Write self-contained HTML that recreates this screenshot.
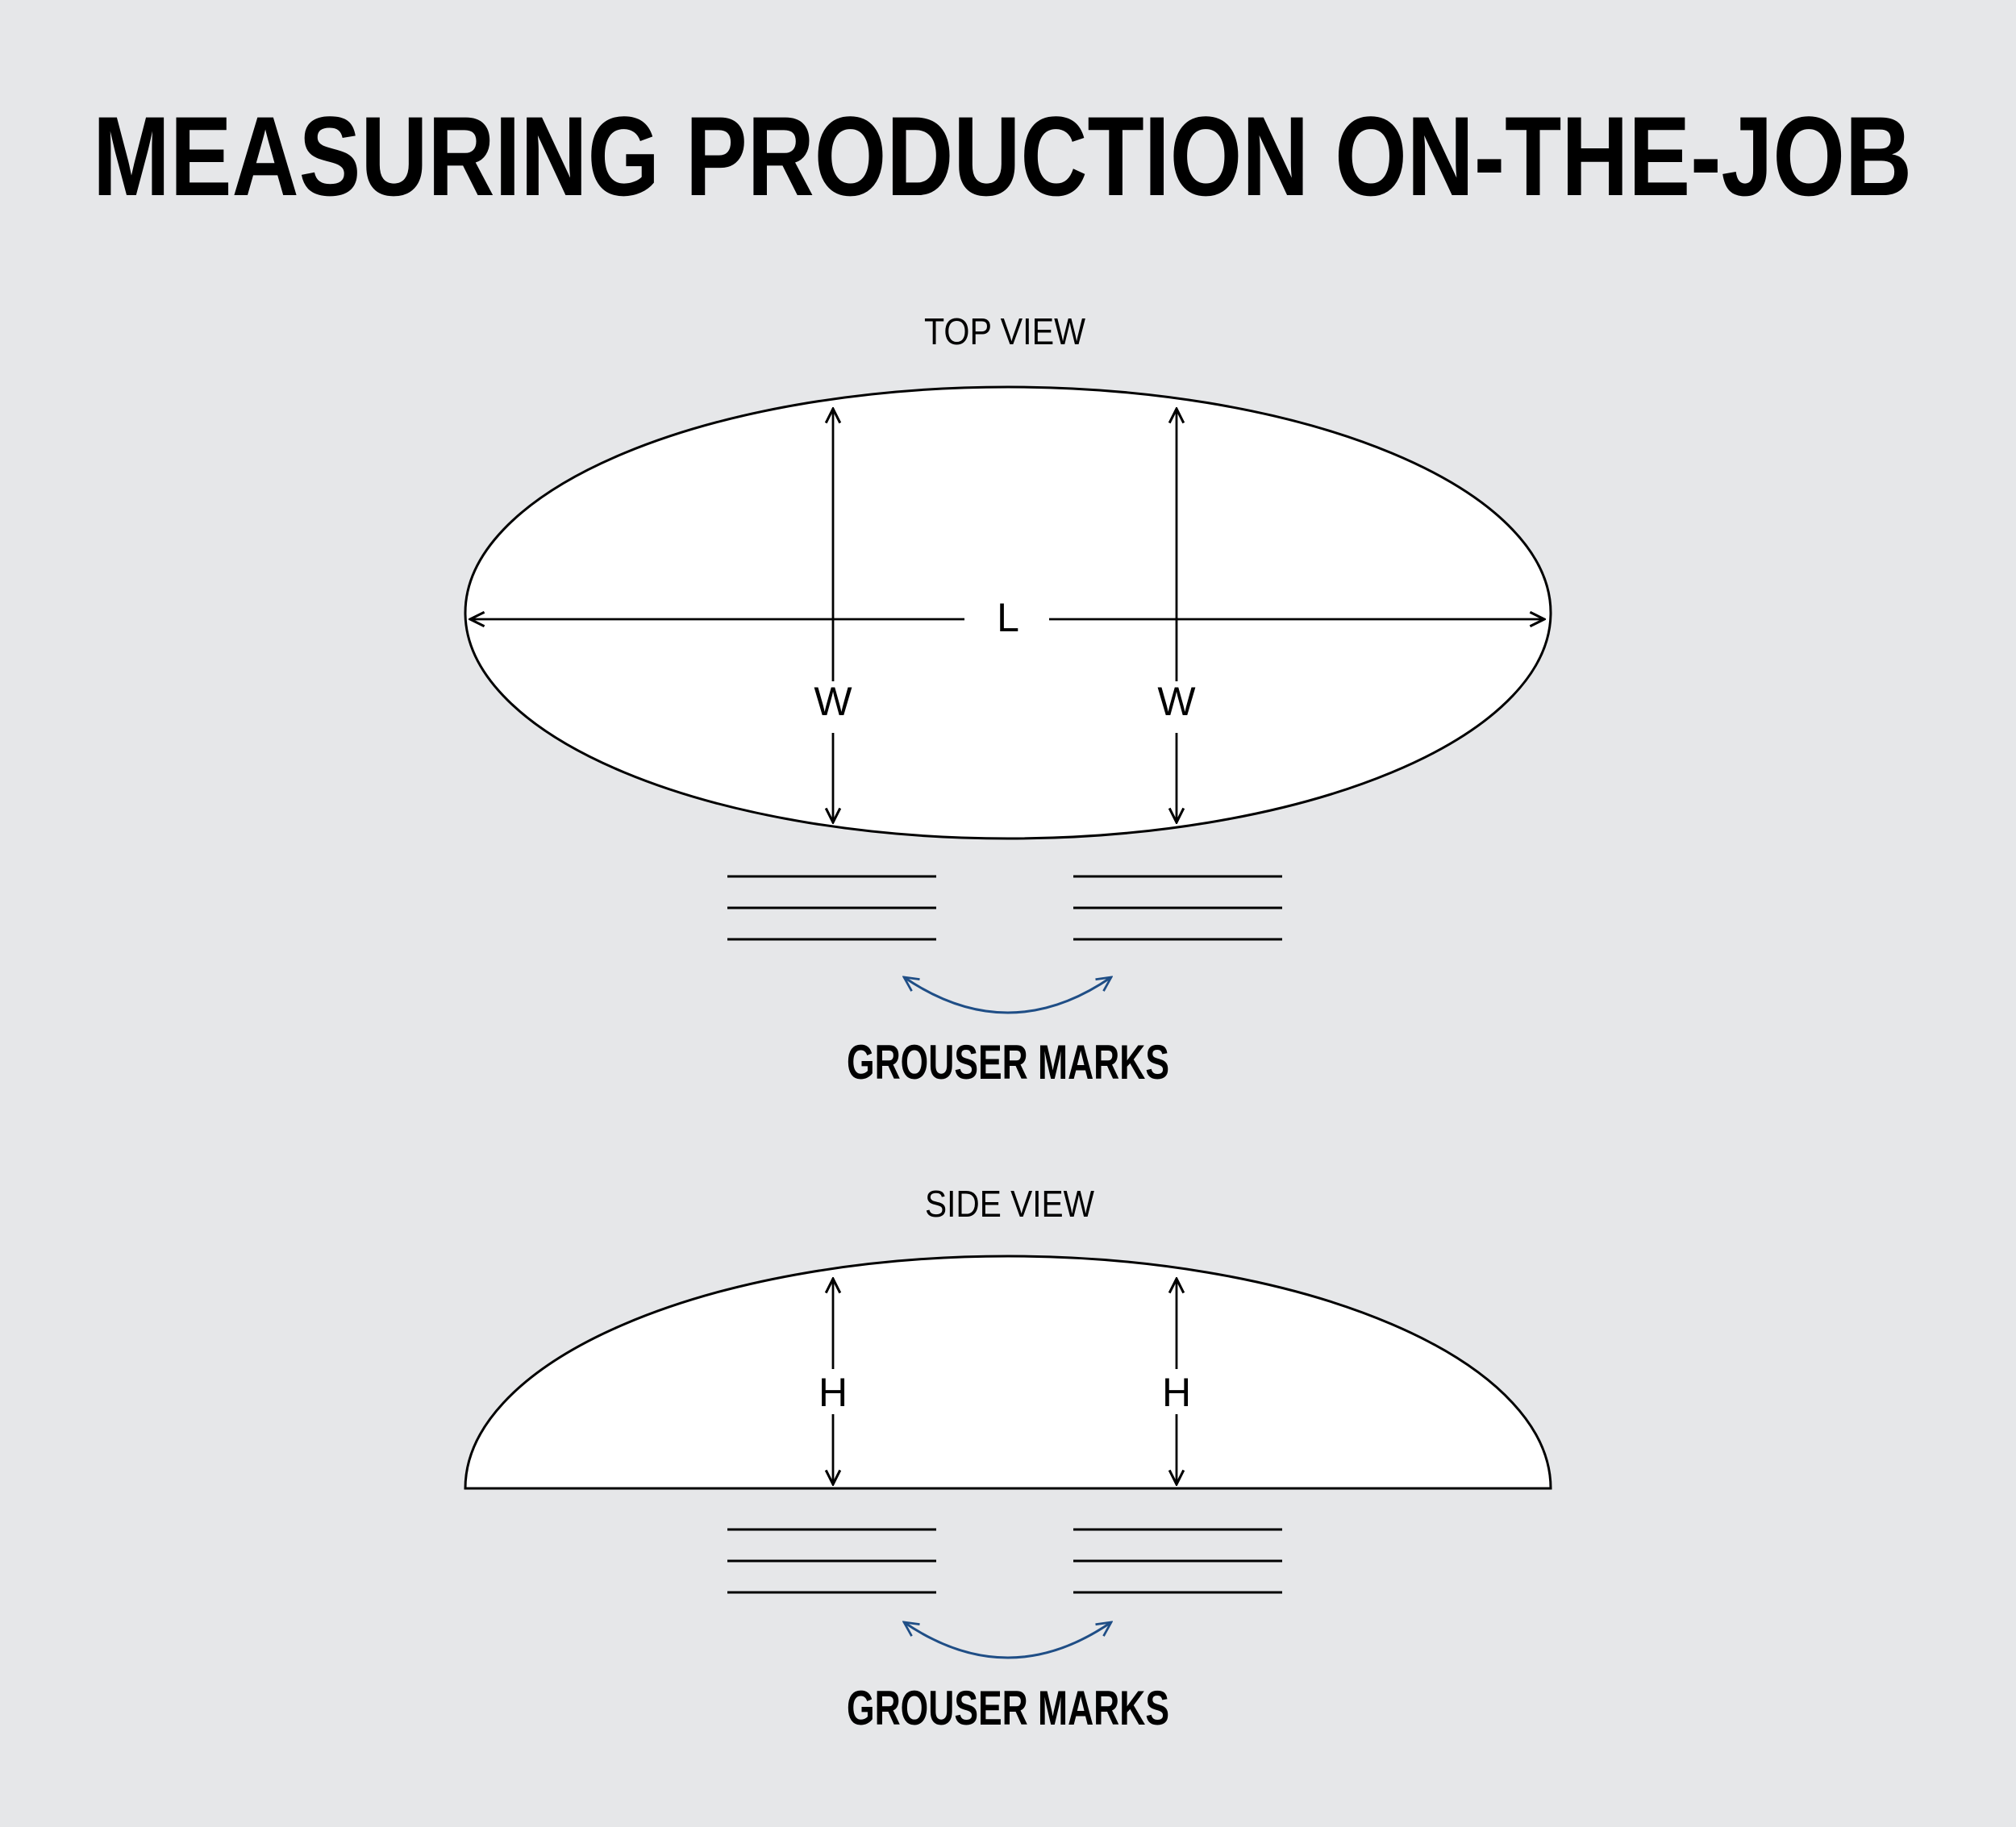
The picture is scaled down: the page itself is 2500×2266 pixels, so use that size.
<!DOCTYPE html>
<html><head><meta charset="utf-8"><style>
html,body{margin:0;padding:0;background:#e6e7e9;}
svg{display:block;}
text{font-family:"Liberation Sans",sans-serif;fill:#000;}
</style></head><body>
<svg width="2500" height="2266" viewBox="0 0 2500 2266" xmlns="http://www.w3.org/2000/svg">
<rect width="2500" height="2266" fill="#e6e7e9"/>
<defs>
<marker id="a" viewBox="0 0 20 20" refX="18" refY="10" markerWidth="22" markerHeight="22" markerUnits="userSpaceOnUse" orient="auto-start-reverse">
<path d="M2 2 L18 10 L2 18" fill="none" stroke="#000" stroke-width="2.8"/></marker>
<marker id="b" viewBox="0 0 20 20" refX="18" refY="10" markerWidth="22" markerHeight="22" markerUnits="userSpaceOnUse" orient="auto-start-reverse">
<path d="M2 2 L18 10 L2 18" fill="none" stroke="#1f4e86" stroke-width="2.5"/></marker>
</defs>
<text x="1243" y="242" text-anchor="middle" font-size="140" font-weight="bold" textLength="2256" lengthAdjust="spacingAndGlyphs">MEASURING PRODUCTION ON-THE-JOB</text>

<text x="1246" y="427" text-anchor="middle" font-size="46" textLength="200" lengthAdjust="spacingAndGlyphs">TOP VIEW</text>
<ellipse cx="1250" cy="760" rx="673" ry="280" fill="#fff" stroke="#000" stroke-width="3"/>
<line x1="583" y1="768" x2="1196" y2="768" stroke="#000" stroke-width="2.8" marker-start="url(#a)"/>
<line x1="1301" y1="768" x2="1915" y2="768" stroke="#000" stroke-width="2.8" marker-end="url(#a)"/>
<text x="1250" y="783" text-anchor="middle" font-size="50">L</text>
<g stroke="#000" stroke-width="2.8">
<line x1="1033" y1="507" x2="1033" y2="845" marker-start="url(#a)"/>
<line x1="1033" y1="909" x2="1033" y2="1020" marker-end="url(#a)"/>
<line x1="1459" y1="507" x2="1459" y2="845" marker-start="url(#a)"/>
<line x1="1459" y1="909" x2="1459" y2="1020" marker-end="url(#a)"/>
</g>
<text x="1033" y="887" text-anchor="middle" font-size="50">W</text>
<text x="1459" y="887" text-anchor="middle" font-size="50">W</text>
<g stroke="#000" stroke-width="3">
<line x1="902" y1="1087" x2="1161" y2="1087"/><line x1="902" y1="1126" x2="1161" y2="1126"/><line x1="902" y1="1165" x2="1161" y2="1165"/>
<line x1="1331" y1="1087" x2="1590" y2="1087"/><line x1="1331" y1="1126" x2="1590" y2="1126"/><line x1="1331" y1="1165" x2="1590" y2="1165"/>
</g>
<path d="M1121 1212 Q1250 1300 1378 1212" fill="none" stroke="#1f4e86" stroke-width="3" marker-start="url(#b)" marker-end="url(#b)"/>
<text x="1250" y="1338" text-anchor="middle" font-size="60" font-weight="bold" textLength="400" lengthAdjust="spacingAndGlyphs">GROUSER MARKS</text>

<text x="1252" y="1509" text-anchor="middle" font-size="46" textLength="210" lengthAdjust="spacingAndGlyphs">SIDE VIEW</text>
<path d="M577 1846 A673 288 0 0 1 1923 1846 Z" fill="#fff" stroke="#000" stroke-width="3"/>
<g stroke="#000" stroke-width="2.8">
<line x1="1033" y1="1586" x2="1033" y2="1698" marker-start="url(#a)"/>
<line x1="1033" y1="1754" x2="1033" y2="1841" marker-end="url(#a)"/>
<line x1="1459" y1="1586" x2="1459" y2="1698" marker-start="url(#a)"/>
<line x1="1459" y1="1754" x2="1459" y2="1841" marker-end="url(#a)"/>
</g>
<text x="1033" y="1744" text-anchor="middle" font-size="50">H</text>
<text x="1459" y="1744" text-anchor="middle" font-size="50">H</text>
<g stroke="#000" stroke-width="3">
<line x1="902" y1="1897" x2="1161" y2="1897"/><line x1="902" y1="1936" x2="1161" y2="1936"/><line x1="902" y1="1975" x2="1161" y2="1975"/>
<line x1="1331" y1="1897" x2="1590" y2="1897"/><line x1="1331" y1="1936" x2="1590" y2="1936"/><line x1="1331" y1="1975" x2="1590" y2="1975"/>
</g>
<path d="M1121 2012 Q1250 2100 1378 2012" fill="none" stroke="#1f4e86" stroke-width="3" marker-start="url(#b)" marker-end="url(#b)"/>
<text x="1250" y="2139" text-anchor="middle" font-size="60" font-weight="bold" textLength="400" lengthAdjust="spacingAndGlyphs">GROUSER MARKS</text>
</svg>
</body></html>
